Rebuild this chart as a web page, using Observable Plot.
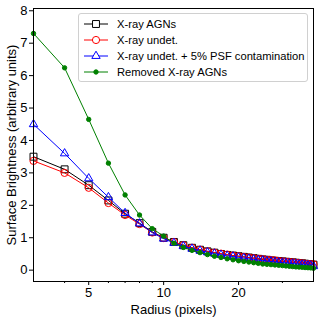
<!DOCTYPE html>
<html>
<head>
<meta charset="utf-8">
<script src="https://cdn.jsdelivr.net/npm/d3@7"></script>
<script src="https://cdn.jsdelivr.net/npm/@observablehq/plot@0.6"></script>
<style>
  html, body { margin: 0; padding: 0; background: #fff; }
  #wrap { position: relative; width: 322px; height: 320px; font-family: "Liberation Sans", Arial, sans-serif; }
  #legend { position: absolute; left: 78px; top: 13px; width: 230px; height: 69px; box-sizing: border-box;
    border: 1px solid #d0d0d0; border-radius: 3px; background: rgba(255,255,255,0.85); font-size: 11.2px; color: #000; }
  .row { position: absolute; left: 4px; height: 16px; display: flex; align-items: center; white-space: nowrap; }
  .row svg { width: 26px; height: 16px; margin-right: 8px; }
</style>
</head>
<body>
<div id="wrap"><div id="legend"></div></div>
<script>
const radius = [3,4,5,6,7,8,9,10,11,12,13,14,15,16,17,18,19,20,21,22,23,24,25,26,27,28,29,30,31,32,33,34,35,36,37,38,39,40];
const xrayAGN = [3.50,3.11,2.62,2.15,1.74,1.45,1.18,1.00, 0.87,0.77,0.69,0.63,0.58,0.54,0.50,0.47,0.45,0.43, 0.41,0.39,0.37,0.35,0.33,0.32,0.30,0.29,0.28,0.27, 0.26,0.25,0.24,0.23,0.22,0.21,0.20,0.19,0.18,0.17];
const xrayUndet = [3.37,3.00,2.54,2.07,1.70,1.42,1.16,0.99, 0.87,0.77,0.69,0.63,0.58,0.54,0.51,0.48,0.45,0.43, 0.41,0.39,0.37,0.35,0.34,0.32,0.31,0.30,0.28,0.27, 0.26,0.25,0.24,0.23,0.22,0.21,0.20,0.19,0.18,0.18];
const xrayUndetPSF = [4.50,3.60,2.83,2.25,1.76,1.44,1.16,0.97, 0.84,0.74,0.66,0.60,0.55,0.51,0.47,0.44,0.42,0.39, 0.37,0.35,0.33,0.31,0.30,0.28,0.27,0.25,0.24,0.23, 0.22,0.21,0.20,0.19,0.18,0.17,0.16,0.15,0.14,0.12];
const removedAGN = [7.30,6.24,4.65,3.30,2.32,1.70,1.28,1.05, 0.83,0.70,0.61,0.54,0.48,0.43,0.39,0.35,0.32,0.29, 0.27,0.25,0.23,0.21,0.19,0.18,0.17,0.16,0.15,0.14, 0.13,0.12,0.11,0.10,0.095,0.09,0.08,0.075,0.07,0.06];
const seriesNames = ["X-ray AGNs", "X-ray undet.", "X-ray undet. + 5% PSF contamination", "Removed X-ray AGNs"];
const xMajorTicks = [5, 10, 20];
const xMinorTicks = [4, 6, 7, 8, 9, 30];
const yTicks = [0, 1, 2, 3, 4, 5, 6, 7, 8];

const styles = [
  {values: xrayAGN, color: "black", symbol: "square", r: 3.9, fill: "none"},
  {values: xrayUndet, color: "red", symbol: "circle", r: 3.6, fill: "none"},
  {values: xrayUndetPSF, color: "blue", symbol: "triangle", r: 3.1, fill: "none"},
  {values: removedAGN, color: "green", symbol: "circle", r: 2.2, fill: "green"}
];

const data = [];
styles.forEach((s, i) => s.values.forEach((v, j) => data.push({series: seriesNames[i], r: radius[j], v})));

const marks = [];
styles.forEach((s, i) => {
  const d = data.filter(e => e.series === seriesNames[i]);
  marks.push(Plot.line(d, {x: "r", y: "v", stroke: s.color, strokeWidth: 1}));
  marks.push(Plot.dot(d, {x: "r", y: "v", stroke: s.color, fill: s.fill, symbol: s.symbol, r: s.r, strokeWidth: 1}));
});

const chart = Plot.plot({
  width: 322, height: 320,
  marginLeft: 33, marginRight: 9, marginTop: 8, marginBottom: 39,
  style: {fontFamily: "Liberation Sans, Arial, sans-serif", fontSize: "13px", color: "black", background: "white"},
  x: {type: "log", domain: [3, 40]},
  y: {domain: [-0.35, 8.07]},
  marks: [
    ...marks,
    Plot.frame({stroke: "black", strokeWidth: 1}),
    Plot.axisX({ticks: xMajorTicks, tickSize: 4, tickPadding: 2, tickFormat: d => String(d),
      label: "Radius (pixels)", labelAnchor: "center", labelArrow: "none", labelOffset: 32, fontSize: 13}),
    Plot.axisX({ticks: xMinorTicks, tickSize: 2, tickFormat: () => "", label: null}),
    Plot.axisY({ticks: yTicks, tickSize: 4, tickPadding: 2, tickFormat: d => String(d),
      label: "Surface Brightness (arbitrary units)", labelAnchor: "center", labelArrow: "none", labelOffset: 27, fontSize: 13})
  ]
});
document.getElementById("wrap").prepend(chart);

// legend
const legend = document.getElementById("legend");
styles.forEach((s, i) => {
  const row = document.createElement("div");
  row.className = "row";
  row.style.top = (2 + i * 16) + "px";
  const sym = d3.symbol(s.symbol === "square" ? d3.symbolSquare : s.symbol === "triangle" ? d3.symbolTriangle : d3.symbolCircle, Math.PI * s.r * s.r)();
  row.innerHTML = `<svg viewBox="0 0 26 16"><line x1="1" x2="25" y1="8" y2="8" stroke="${s.color}" stroke-width="1"/>` +
    `<path d="${sym}" transform="translate(13,8)" fill="${s.fill === "none" ? "white" : s.fill}" stroke="${s.color}" stroke-width="1"/></svg>` +
    `<span>${seriesNames[i]}</span>`;
  legend.appendChild(row);
});
</script>
</body>
</html>
